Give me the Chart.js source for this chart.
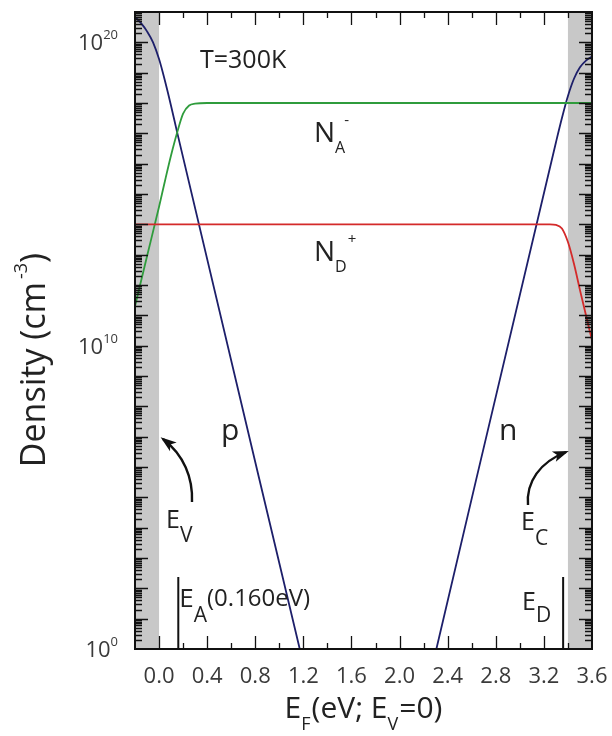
<!DOCTYPE html>
<html>
<head>
<meta charset="utf-8">
<script src="https://cdn.jsdelivr.net/npm/chart.js@4.4.0/dist/chart.umd.min.js"></script>
<style>
  html, body { margin: 0; padding: 0; background: #fff; }
  canvas { display: block; }
</style>
</head>
<body>
<canvas id="densityChart" width="612" height="736"></canvas>
<script>
// Carrier and ionized impurity densities vs Fermi level, T = 300K

const X_MIN = -0.2, X_MAX = 3.6;
const Y_MIN = 1, Y_MAX = 1e21;
const E_V = 0.0, E_C = 3.4, E_A = 0.16, E_D = 3.36;

const xTickValues = [-0.2, 0.0, 0.2, 0.4, 0.6, 0.8, 1.0, 1.2, 1.4, 1.6, 1.8, 2.0, 2.2, 2.4, 2.6, 2.8, 3.0, 3.2, 3.4, 3.6];
const xTickLabels = ['0.0', '0.4', '0.8', '1.2', '1.6', '2.0', '2.4', '2.8', '3.2', '3.6'];
const yTickExponents = [0, 10, 20];
const yMinorMantissas = [2, 3, 4, 5, 6, 7, 8, 9];

// holes (p)
const pEnergy  = [-0.2, -0.15, -0.1, -0.05, 0.0, 0.05, 0.1, 0.15, 1.17];
const pDensity = [6.8e20, 4.3e20, 2.3e20, 1.0e20, 2.8e19, 5.2e18, 8.0e17, 1.1e17, 1];

// electrons (n)
const nEnergy  = [2.306, 3.3, 3.35, 3.4, 3.45, 3.5, 3.55, 3.6];
const nDensity = [1, 5.0e16, 3.2e17, 1.7e18, 6.3e18, 1.5e19, 2.5e19, 3.4e19];

// ionized acceptors N_A-
const naEnergy  = [-0.2, -0.1, 0.0, 0.05, 0.1, 0.15, 0.2, 0.25, 0.3, 0.4, 3.6];
const naDensity = [2.0e11, 8.9e12, 3.8e14, 2.8e15, 1.9e16, 1.05e17, 4.5e17, 8.3e17, 9.5e17, 1e18, 1e18];

// ionized donors N_D+
const ndEnergy  = [-0.2, 3.25, 3.3, 3.35, 3.4, 3.45, 3.5, 3.55, 3.6];
const ndDensity = [1e14, 1e14, 9.6e13, 7.3e13, 2.6e13, 5.0e12, 6.8e11, 1.0e11, 1.5e10];

const FONT = '"Open Sans", "DejaVu Sans", sans-serif';
const font = size => `${size}px ${FONT}`;

function toPoints(xs, ys) {
	return xs.map((x, i) => ({ x, y: ys[i] }));
}

// decade ticks plus 2..9 minor ticks for the log axis
function logTicks() {
	const ticks = [];
	const top = Math.round(Math.log10(Y_MAX));
	for (let e = 0; e <= top; e++) {
		ticks.push({ value: Math.pow(10, e), major: true });
		if (e < top) yMinorMantissas.forEach(m => ticks.push({ value: m * Math.pow(10, e), major: false }));
	}
	return ticks;
}

// draw a run of text pieces (for sub/superscripts)
function drawParts(ctx, parts, x, y, align) {
	let width = 0;
	parts.forEach(p => {
		ctx.font = font(p.size);
		p.w = ctx.measureText(p.t).width + (p.gap || 0);
		width += p.w;
	});
	let cx = align === 'center' ? x - width / 2 : align === 'right' ? x - width : x;
	ctx.textAlign = 'left';
	ctx.textBaseline = 'alphabetic';
	parts.forEach(p => {
		ctx.font = font(p.size);
		ctx.fillText(p.t, cx + (p.dx || 0), y + (p.dy || 0));
		cx += p.w;
	});
}

function curvedArrow(ctx, p0, c1, c2, tip) {
	ctx.beginPath();
	ctx.moveTo(p0[0], p0[1]);
	ctx.bezierCurveTo(c1[0], c1[1], c2[0], c2[1], tip[0], tip[1]);
	ctx.stroke();
	const ang = Math.atan2(tip[1] - c2[1], tip[0] - c2[0]);
	const len = 13, half = 5.5;
	ctx.beginPath();
	ctx.moveTo(tip[0] + 3 * Math.cos(ang), tip[1] + 3 * Math.sin(ang));
	ctx.lineTo(tip[0] - len * Math.cos(ang) - half * Math.sin(ang), tip[1] - len * Math.sin(ang) + half * Math.cos(ang));
	ctx.lineTo(tip[0] - len * 0.7 * Math.cos(ang), tip[1] - len * 0.7 * Math.sin(ang));
	ctx.lineTo(tip[0] - len * Math.cos(ang) + half * Math.sin(ang), tip[1] - len * Math.sin(ang) - half * Math.cos(ang));
	ctx.closePath();
	ctx.fill();
}

const bandPlugin = {
	id: 'bands',
	beforeDatasetsDraw(chart) {
		const { ctx, chartArea: a, scales: { x } } = chart;
		ctx.save();
		ctx.fillStyle = '#c8c8c8';
		[[X_MIN, E_V], [E_C, X_MAX]].forEach(([e0, e1]) => {
			const x0 = x.getPixelForValue(e0), x1 = x.getPixelForValue(e1);
			ctx.fillRect(x0, a.top, x1 - x0, a.bottom - a.top);
		});
		ctx.restore();
	}
};

const framePlugin = {
	id: 'frame',
	afterDatasetsDraw(chart) {
		const { ctx, chartArea: a, scales: { x, y } } = chart;
		ctx.save();
		ctx.strokeStyle = '#111';
		ctx.fillStyle = '#111';

		// inward ticks, mirrored on all four sides
		ctx.lineWidth = 1.3;
		ctx.beginPath();
		xTickValues.forEach(v => {
			const px = Math.round(x.getPixelForValue(v)) + 0.5;
			if (px <= a.left + 1 || px >= a.right - 1) return;
			const len = xTickLabels.includes(v.toFixed(1)) ? 13 : 6;
			ctx.moveTo(px, a.bottom); ctx.lineTo(px, a.bottom - len);
			ctx.moveTo(px, a.top); ctx.lineTo(px, a.top + len);
		});
		logTicks().forEach(t => {
			const py = Math.round(y.getPixelForValue(t.value)) + 0.5;
			if (py >= a.bottom - 1 || py <= a.top + 1) return;
			const len = t.major ? 13 : 7;
			ctx.moveTo(a.left, py); ctx.lineTo(a.left + len, py);
			ctx.moveTo(a.right, py); ctx.lineTo(a.right - len, py);
		});
		ctx.stroke();

		// frame
		ctx.lineWidth = 2;
		ctx.strokeRect(a.left, a.top, a.right - a.left, a.bottom - a.top);

		// E_A and E_D level markers
		ctx.lineWidth = 2;
		ctx.beginPath();
		[E_A, E_D].forEach(e => {
			const px = x.getPixelForValue(e);
			ctx.moveTo(px, a.bottom); ctx.lineTo(px, a.bottom - 72);
		});
		ctx.stroke();

		// tick labels
		ctx.fillStyle = '#3a3a3a';
		ctx.font = font(22);
		ctx.textAlign = 'center';
		ctx.textBaseline = 'alphabetic';
		xTickLabels.forEach(lbl => {
			ctx.fillText(lbl, x.getPixelForValue(parseFloat(lbl)), a.bottom + 34);
		});
		yTickExponents.forEach(e => {
			const py = y.getPixelForValue(Math.pow(10, e));
			drawParts(ctx, [{ t: '10', size: 22 }, { t: String(e), size: 13, dy: -11 }], a.left - 17, py + 8, 'right');
		});

		// axis titles
		ctx.fillStyle = '#222';
		drawParts(ctx, [
			{ t: 'E', size: 30 }, { t: 'F', size: 18, dy: 12, gap: 1 },
			{ t: '(eV; E', size: 30 }, { t: 'V', size: 18, dy: 12, gap: 1 },
			{ t: '=0)', size: 30 }
		], (a.left + a.right) / 2, a.bottom + 69, 'center');

		ctx.save();
		ctx.translate(45, 360);
		ctx.rotate(-Math.PI / 2);
		drawParts(ctx, [
			{ t: 'Density (cm', size: 34, gap: 3 }, { t: '-3', size: 18, dy: -18 }, { t: ')', size: 34 }
		], 0, 0, 'center');
		ctx.restore();

		// annotations
		drawParts(ctx, [{ t: 'T=300K', size: 25 }], 200, 68, 'left');
		drawParts(ctx, [{ t: 'N', size: 28 }, { t: 'A', size: 16, dy: 11 }, { t: '-', size: 15, dy: -17, dx: -1 }], 314, 142, 'left');
		drawParts(ctx, [{ t: 'N', size: 28 }, { t: 'D', size: 16, dy: 11 }, { t: '+', size: 15, dy: -17, dx: 1 }], 314, 261, 'left');
		drawParts(ctx, [{ t: 'p', size: 30 }], 221, 440, 'left');
		drawParts(ctx, [{ t: 'n', size: 30 }], 499, 440, 'left');
		drawParts(ctx, [{ t: 'E', size: 25 }, { t: 'V', size: 21, dy: 14 }], 166, 528, 'left');
		drawParts(ctx, [{ t: 'E', size: 25 }, { t: 'C', size: 21, dy: 15 }], 521, 530, 'left');
		drawParts(ctx, [{ t: 'E', size: 26 }, { t: 'A', size: 21, dy: 15 }, { t: '(0.160eV)', size: 24, dy: -1 }], x.getPixelForValue(E_A) + 1, 607, 'left');
		drawParts(ctx, [{ t: 'E', size: 25 }, { t: 'D', size: 21, dy: 12 }], 522, 610, 'left');

		// arrows to the band edges
		ctx.strokeStyle = '#111';
		ctx.fillStyle = '#111';
		ctx.lineWidth = 2.4;
		curvedArrow(ctx, [192, 502], [193, 478], [184, 455], [163, 439]);
		curvedArrow(ctx, [528, 505], [526, 482], [540, 462], [566, 452]);

		ctx.restore();
	}
};

function lineSet(label, xs, ys, color) {
	return {
		label,
		data: toPoints(xs, ys),
		borderColor: color,
		borderWidth: 1.8,
		pointRadius: 0,
		fill: false,
		cubicInterpolationMode: 'monotone',
		clip: 0
	};
}

new Chart(document.getElementById('densityChart'), {
	type: 'line',
	data: {
		datasets: [
			lineSet('N_D+', ndEnergy, ndDensity, '#d42a2a'),
			lineSet('N_A-', naEnergy, naDensity, '#2f9c3c'),
			lineSet('p', pEnergy, pDensity, '#1d1f6a'),
			lineSet('n', nEnergy, nDensity, '#1d1f6a')
		]
	},
	options: {
		responsive: false,
		animation: false,
		devicePixelRatio: 1,
		layout: { padding: { left: 135, right: 20, top: 12, bottom: 87 } },
		plugins: { legend: { display: false }, tooltip: { enabled: false } },
		scales: {
			x: { type: 'linear', display: false, min: X_MIN, max: X_MAX },
			y: { type: 'logarithmic', display: false, min: Y_MIN, max: Y_MAX }
		}
	},
	plugins: [bandPlugin, framePlugin]
});
</script>
</body>
</html>
